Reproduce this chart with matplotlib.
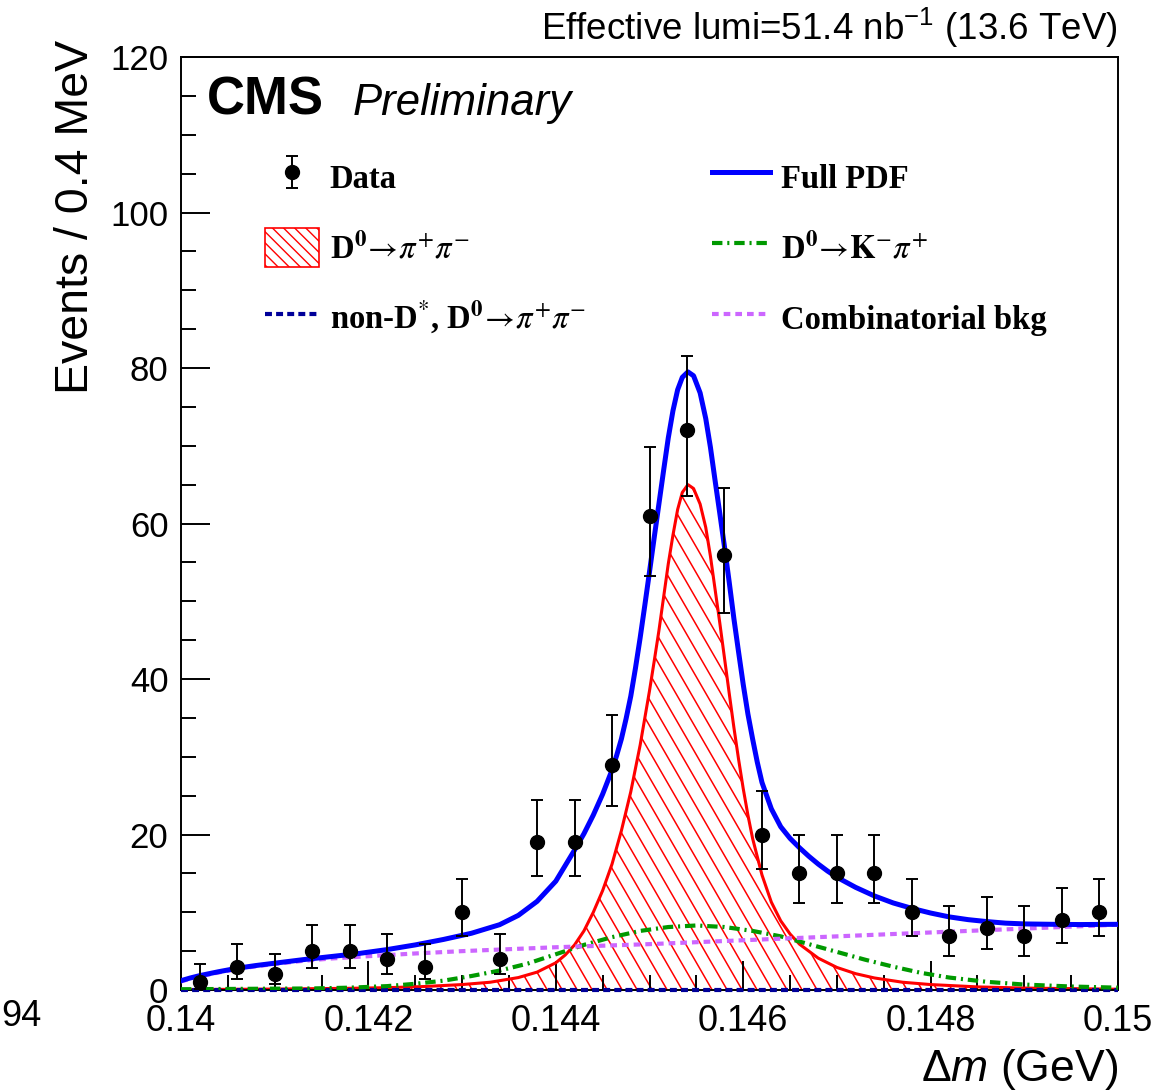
import numpy as np
import matplotlib
matplotlib.use("Agg")
import matplotlib.pyplot as plt
from matplotlib.patches import Patch
from matplotlib.lines import Line2D
from matplotlib.collections import LineCollection
from matplotlib.ticker import MultipleLocator

plt.rcParams['font.family'] = ['Liberation Sans', 'DejaVu Sans']
plt.rcParams['mathtext.fontset'] = 'custom'
plt.rcParams['mathtext.rm'] = 'Liberation Sans'
plt.rcParams['mathtext.it'] = 'Liberation Sans:italic'
plt.rcParams['mathtext.bf'] = 'Liberation Sans:bold'
plt.rcParams['lines.scale_dashes'] = False

# data (bin centres, events / 0.4 MeV) with Poisson errors
dm = [0.1402, 0.1406, 0.1410, 0.1414, 0.1418, 0.1422, 0.1426, 0.1430, 0.1434,
      0.1438, 0.1442, 0.1446, 0.1450, 0.1454, 0.1458, 0.1462, 0.1466, 0.1470,
      0.1474, 0.1478, 0.1482, 0.1486, 0.1490, 0.1494, 0.1498]
counts = [1, 3, 2, 5, 5, 4, 3, 10, 4, 19, 19, 29, 61, 72, 56, 20, 15, 15, 15,
          10, 7, 8, 7, 9, 10]
err_lo = [0.83, 1.63, 1.29, 2.16, 2.16, 1.91, 1.63, 3.11, 1.91, 4.32, 4.32, 5.33,
          7.79, 8.47, 7.46, 4.44, 3.83, 3.83, 3.83, 3.11, 2.58, 2.77, 2.58, 2.94, 3.11]
err_hi = [2.30, 2.92, 2.64, 3.38, 3.38, 3.16, 2.92, 4.26, 3.16, 5.44, 5.44, 6.42,
          8.87, 9.54, 8.54, 5.55, 4.95, 4.95, 4.95, 4.26, 3.77, 3.95, 3.77, 4.11, 4.26]

# full PDF
full_x = [0.1400, 0.1401, 0.1402, 0.1403, 0.1404, 0.1406, 0.1408, 0.1410, 0.1413,
          0.1416, 0.1419, 0.1422, 0.1425, 0.1428, 0.1431, 0.1434, 0.1436, 0.1438,
          0.1440, 0.1442, 0.1443, 0.1444, 0.1445, 0.1446, 0.14465, 0.1447, 0.14475,
          0.1448, 0.14485, 0.1449, 0.14495, 0.1450, 0.14505, 0.1451, 0.14515, 0.1452,
          0.14525, 0.1453, 0.14535, 0.14541, 0.14547, 0.14554, 0.1456, 0.14565, 0.1457,
          0.14575, 0.1458, 0.14585, 0.1459, 0.14595, 0.1460, 0.14605, 0.1461, 0.14615,
          0.1462, 0.1463, 0.1464, 0.1465, 0.1466, 0.1467, 0.1468, 0.1469, 0.1470,
          0.1472, 0.1474, 0.1476, 0.1478, 0.1480, 0.1482, 0.1484, 0.1486, 0.1488,
          0.1490, 0.1493, 0.1496, 0.1500]
full_y = [1.2, 1.55, 1.85, 2.1, 2.35, 2.8, 3.15, 3.45, 3.9,
          4.3, 4.7, 5.2, 5.8, 6.5, 7.3, 8.4, 9.6, 11.4,
          14.0, 18.0, 20.1, 22.5, 25.2, 28.3, 30.2, 32.3, 34.9,
          37.8, 41.4, 45.3, 49.5, 53.8, 58.2, 62.5, 66.8, 71.0,
          74.5, 77.2, 78.8, 79.5, 79.0, 76.8, 73.5, 69.8, 65.5,
          61.3, 57.0, 52.5, 47.8, 43.5, 39.3, 35.5, 32.3, 29.3,
          26.7, 23.3, 21.0, 19.5, 18.3, 17.2, 16.2, 15.3, 14.5,
          13.2, 12.1, 11.2, 10.5, 9.9, 9.4, 9.05, 8.8, 8.6,
          8.5, 8.45, 8.42, 8.45]

# D0 -> pi+ pi- signal
sig_x = [0.1400, 0.1410, 0.1418, 0.1422, 0.1426, 0.1430, 0.1433, 0.1436, 0.1438,
         0.1440, 0.1441, 0.1442, 0.1443, 0.1444, 0.1445, 0.1446, 0.1447, 0.1448,
         0.1449, 0.1450, 0.14505, 0.1451, 0.14515, 0.1452, 0.14525, 0.1453, 0.14535,
         0.14541, 0.14547, 0.14554, 0.1456, 0.14565, 0.1457, 0.14575, 0.1458, 0.14585,
         0.1459, 0.14595, 0.1460, 0.14605, 0.1461, 0.1462, 0.1463, 0.1464, 0.1465,
         0.1466, 0.1468, 0.1470, 0.1472, 0.1474, 0.1477, 0.1480, 0.1485, 0.1490,
         0.1500]
sig_y = [0.05, 0.12, 0.22, 0.3, 0.45, 0.7, 1.0, 1.6, 2.3,
         3.5, 4.5, 5.8, 7.6, 10.0, 12.8, 16.2, 20.5, 25.5,
         31.5, 38.5, 42.3, 46.2, 50.5, 54.8, 58.5, 61.8, 64.0,
         65.0, 64.5, 62.5, 59.5, 55.8, 51.5, 47.2, 42.7, 38.2,
         33.8, 29.7, 25.9, 22.5, 19.5, 14.8, 11.3, 8.9, 7.2,
         5.9, 4.1, 2.9, 2.1, 1.55, 1.0, 0.7, 0.4, 0.25,
         0.1]

# D0 -> K- pi+
kpi_x = [0.1400, 0.1414, 0.1418, 0.1422, 0.1425, 0.1428, 0.1431, 0.1434, 0.1437,
         0.1440, 0.1443, 0.1446, 0.1449, 0.1452, 0.1455, 0.1458, 0.1461, 0.1464,
         0.1467, 0.1470, 0.1473, 0.1476, 0.1479, 0.1482, 0.1486, 0.1490, 0.1495,
         0.1500]
kpi_y = [0.1, 0.2, 0.3, 0.5, 0.8, 1.2, 1.8, 2.5, 3.4,
         4.6, 5.8, 6.8, 7.6, 8.1, 8.3, 8.1, 7.6, 6.9,
         5.9, 4.9, 3.9, 3.0, 2.2, 1.6, 1.05, 0.7, 0.45,
         0.3]

# combinatorial background
comb_x = [0.1400, 0.1401, 0.1402, 0.1403, 0.1404, 0.1406, 0.1408, 0.1410, 0.1413,
          0.1416, 0.1420, 0.1425, 0.1430, 0.1435, 0.1440, 0.1445, 0.1450, 0.1460,
          0.1470, 0.1480, 0.1490, 0.1500]
comb_y = [1.1, 1.45, 1.75, 2.0, 2.25, 2.7, 3.05, 3.35, 3.75,
          4.05, 4.35, 4.7, 5.0, 5.25, 5.5, 5.7, 5.9, 6.4,
          6.9, 7.4, 7.9, 8.4]

# non-D*, D0 -> pi+ pi-
nond_x = [0.1400, 0.1500]
nond_y = [0.0, 0.0]

xticks = [0.140, 0.142, 0.144, 0.146, 0.148, 0.150]
xticklabels = ['0.14', '0.142', '0.144', '0.146', '0.148', '0.15']
yticks = [0, 20, 40, 60, 80, 100, 120]

fig = plt.figure(figsize=(11.58, 10.92), dpi=100)
ax = fig.add_axes([0.1563, 0.0934, 0.8092, 0.8544])

# signal: hatched area at ~60 degrees
poly = ax.fill_between(sig_x, 0, sig_y, facecolor='none', edgecolor='none', zorder=1)
clip = poly.get_paths()[0]
offs = np.arange(-0.6, 1.0, 0.016)
slant = (933 / 937) / np.tan(np.radians(60))
segs = [[(c, 1.0), (c + slant, 0.0)] for c in offs]
hatch = LineCollection(segs, colors='#ff0000', linewidths=1.1,
                       transform=ax.transAxes, zorder=1)
ax.add_collection(hatch)
hatch.set_clip_path(clip, ax.transData)

ax.plot(sig_x, sig_y, color='#ff0000', lw=2.2, zorder=2)
ax.plot(nond_x, nond_y, color='#000099', lw=3.0, dashes=(5, 3), zorder=3,
        clip_on=False)
ax.plot(kpi_x, kpi_y, color='#009900', lw=3.0, dashes=(7.5, 3.5, 1.5, 3.5), zorder=3)
ax.plot(comb_x, comb_y, color='#cc66ff', lw=3.0, dashes=(4.8, 3.6), zorder=3)
ax.plot(full_x, full_y, color='#0000ff', lw=3.6, zorder=4)

eb = ax.errorbar(dm, counts, yerr=[err_lo, err_hi], fmt='o', color='black',
                 ms=10, elinewidth=1.4, capsize=4, capthick=1.4, zorder=5)

ax.set_xlim(0.14, 0.15)
ax.set_ylim(0, 120)
ax.set_xticks(xticks)
ax.set_xticklabels(xticklabels)
ax.set_yticks(yticks)
ax.xaxis.set_minor_locator(MultipleLocator(0.0005))
ax.yaxis.set_minor_locator(MultipleLocator(5))
ax.tick_params(which='both', direction='in', top=False, right=False, width=1.4)
ax.tick_params(which='major', length=21)
ax.tick_params(which='minor', length=10.5)
ax.tick_params(axis='x', labelsize=26, pad=10)
ax.tick_params(axis='y', labelsize=25, pad=9)
for s in ax.spines.values():
    s.set_linewidth(1.4)

ax.set_xlabel(r'$\Delta m$ (GeV)', fontsize=32, loc='right')
ax.xaxis.set_label_coords(1.0, -0.061)
ax.set_ylabel('Events / 0.4 MeV', fontsize=33.5, loc='top')
ax.yaxis.set_label_coords(-0.089, 1.018)

ax.text(1.0, 1.008, r'Effective lumi=51.4 nb$^{-1}$ (13.6 TeV)', transform=ax.transAxes,
        ha='right', va='bottom', fontsize=26.5)
ax.text(0.0277, 0.938, 'CMS', transform=ax.transAxes, ha='left', va='baseline',
        fontsize=38, fontweight='bold')
ax.text(0.183, 0.938, 'Preliminary', transform=ax.transAxes, ha='left', va='baseline',
        fontsize=31.5, style='italic')

fig.text(0.001, 0.0687, '94', ha='left', va='center', fontsize=26)

# legends
leg_font = {'family': 'Liberation Serif', 'weight': 'bold', 'size': 23.5}
h_sig = Patch(facecolor='white', edgecolor='#ff0000', hatch='\\\\\\', lw=1.2)
h_nond = Line2D([], [], color='#000099', lw=3.0, dashes=(5, 3))
h_full = Line2D([], [], color='#0000ff', lw=3.6)
h_kpi = Line2D([], [], color='#009900', lw=3.0, dashes=(7.5, 3.5, 1.5, 3.5))
h_comb = Line2D([], [], color='#cc66ff', lw=3.0, dashes=(4.8, 3.6))

common = dict(frameon=False, prop=leg_font, borderpad=0, borderaxespad=0,
              handleheight=1.5, labelspacing=0.95, handletextpad=0.33,
              loc='upper left')
leg1 = ax.legend([eb, h_sig, h_nond],
                 ['Data', r'D$^{\mathbf{0}}\!\rightarrow\!\pi^{+}\pi^{-}$',
                  r'non-D$^{*}$, D$^{\mathbf{0}}\!\rightarrow\!\pi^{+}\pi^{-}$'],
                 bbox_to_anchor=(0.0896, 0.893), handlelength=1.65, **common)
for t in leg1.get_texts():
    t.set_math_fontfamily('stix')
ax.add_artist(leg1)
leg2 = ax.legend([h_full, h_kpi, h_comb],
                 ['Full PDF', r'D$^{\mathbf{0}}\!\rightarrow\!\mathbf{K}^{-}\pi^{+}$',
                  'Combinatorial bkg'],
                 bbox_to_anchor=(0.567, 0.893), handlelength=1.78, **common)
for t in leg2.get_texts():
    t.set_math_fontfamily('stix')

fig.savefig('out.png', dpi=100)
